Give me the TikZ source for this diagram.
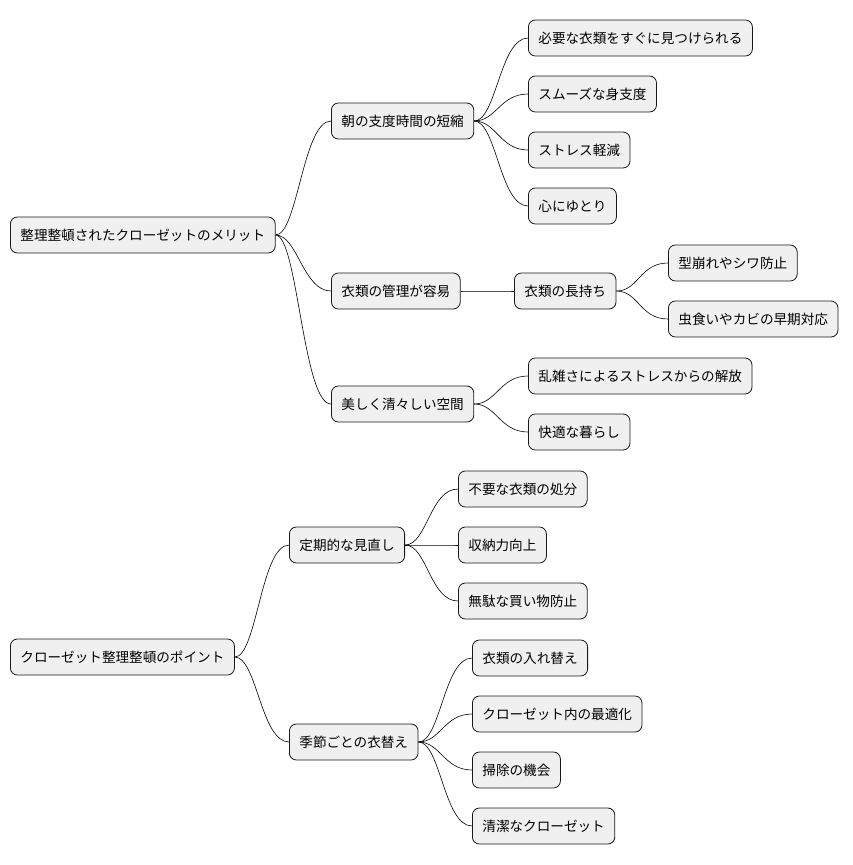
\documentclass[tikz,border=0pt]{standalone}
\usepackage{fontspec}
\setmainfont{Noto Sans CJK JP}
\begin{document}
\begin{tikzpicture}[x=1pt,y=-1pt,
  box/.style={draw=black!90,fill=black!6,rounded corners=7pt,line width=0.8pt,minimum height=36pt,inner xsep=10pt,anchor=west,font=\fontsize{13.6}{16}\selectfont},
  con/.style={line width=0.6pt}]
\useasboundingbox (0,0) rectangle (852,865);
\node[box] (r1) at (10,235) {整理整頓されたクローゼットのメリット};
\node[box] (a1) at (331,121) {朝の支度時間の短縮};
\node[box] (a11) at (528,38) {必要な衣類をすぐに見つけられる};
\node[box] (a12) at (528,94) {スムーズな身支度};
\node[box] (a13) at (528,150) {ストレス軽減};
\node[box] (a14) at (528,206) {心にゆとり};
\node[box] (a2) at (331,291) {衣類の管理が容易};
\node[box] (a21) at (514,291) {衣類の長持ち};
\node[box] (a211) at (668,263) {型崩れやシワ防止};
\node[box] (a212) at (668,319) {虫食いやカビの早期対応};
\node[box] (a3) at (331,404) {美しく清々しい空間};
\node[box] (a31) at (528,376) {乱雑さによるストレスからの解放};
\node[box] (a32) at (528,432) {快適な暮らし};
\node[box] (r2) at (10,657) {クローゼット整理整頓のポイント};
\node[box] (b1) at (289,545) {定期的な見直し};
\node[box] (b11) at (458,489) {不要な衣類の処分};
\node[box] (b12) at (458,545) {収納力向上};
\node[box] (b13) at (458,601) {無駄な買い物防止};
\node[box] (b2) at (289,742) {季節ごとの衣替え};
\node[box] (b21) at (472,658) {衣類の入れ替え};
\node[box] (b22) at (472,714) {クローゼット内の最適化};
\node[box] (b23) at (472,770) {掃除の機会};
\node[box] (b24) at (472,826) {清潔なクローゼット};
\foreach \p/\c in {r1/a1,r1/a2,r1/a3,a1/a11,a1/a12,a1/a13,a1/a14,a2/a21,a21/a211,a21/a212,a3/a31,a3/a32,r2/b1,r2/b2,b1/b11,b1/b12,b1/b13,b2/b21,b2/b22,b2/b23,b2/b24}
  \draw[con] (\p.east) .. controls +(22,0) and +(-28,0) .. (\c.west);
\end{tikzpicture}
\end{document}
